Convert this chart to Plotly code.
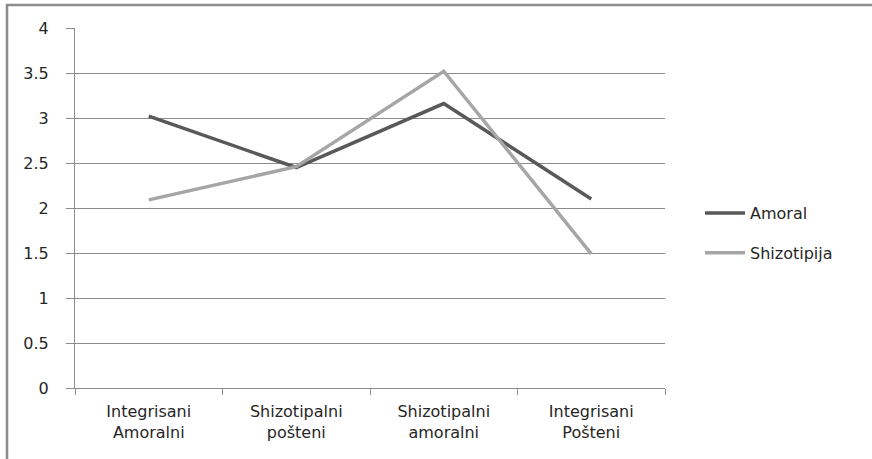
import plotly.graph_objects as go

categories = ["Integrisani<br>Amoralni", "Shizotipalni<br>pošteni", "Shizotipalni<br>amoralni", "Integrisani<br>Pošteni"]
amoral = [3.02, 2.45, 3.16, 2.10]
shizotipija = [2.09, 2.46, 3.52, 1.49]
y_ticks = [0, 0.5, 1, 1.5, 2, 2.5, 3, 3.5, 4]
y_tick_text = ["0", "0.5", "1", "1.5", "2", "2.5", "3", "3.5", "4"]

FONT = "DejaVu Sans"
W, H = 872, 459
L, R, T, B = 75, 665, 28, 388

fig = go.Figure()
fig.add_trace(go.Scatter(x=categories, y=amoral, mode="lines", name="Amoral",
                         line=dict(color="#595959", width=3.5), legendgroup="a"))
fig.add_trace(go.Scatter(x=categories, y=shizotipija, mode="lines", name="Shizotipija",
                         line=dict(color="#A6A6A6", width=3.5), legendgroup="b"))

pw = R - L
ph = B - T
fig.add_shape(type="rect", xref="paper", yref="paper",
              x0=(7 - L) / pw, x1=(900 - L) / pw,
              y0=(B - 480) / ph, y1=(B - 5) / ph,
              line=dict(color="#8c8c8c", width=2.5), fillcolor="rgba(0,0,0,0)", layer="below")

fig.update_layout(
    width=W, height=H,
    margin=dict(l=L, r=W - R, t=T, b=H - B, pad=0),
    paper_bgcolor="white", plot_bgcolor="white",
    font=dict(family=FONT, size=16, color="#262626"),
    showlegend=True,
    legend=dict(x=(700 - L) / pw, y=(B - 233) / ph, xanchor="left", yanchor="middle",
                tracegroupgap=16, font=dict(size=16, color="#262626"),
                bgcolor="rgba(0,0,0,0)", itemwidth=40),
    xaxis=dict(type="category", range=[-0.5, 3.5], showline=True, linecolor="#8c8c8c", linewidth=1,
               ticks="outside", tickson="boundaries", ticklen=6, tickcolor="#8c8c8c",
               showgrid=False, zeroline=False, fixedrange=True, ticklabelstandoff=9),
    yaxis=dict(range=[0, 4], tickvals=y_ticks, ticktext=y_tick_text, showline=True,
               linecolor="#8c8c8c", linewidth=1, ticks="outside", ticklen=8, tickcolor="#8c8c8c",
               showgrid=True, gridcolor="#8c8c8c", gridwidth=1, zeroline=False,
               fixedrange=True, ticklabelstandoff=14),
)

fig.write_html("out.html", config={"displayModeBar": False, "staticPlot": True},
               post_script="document.body.style.margin='0';document.body.style.overflow='hidden';")
